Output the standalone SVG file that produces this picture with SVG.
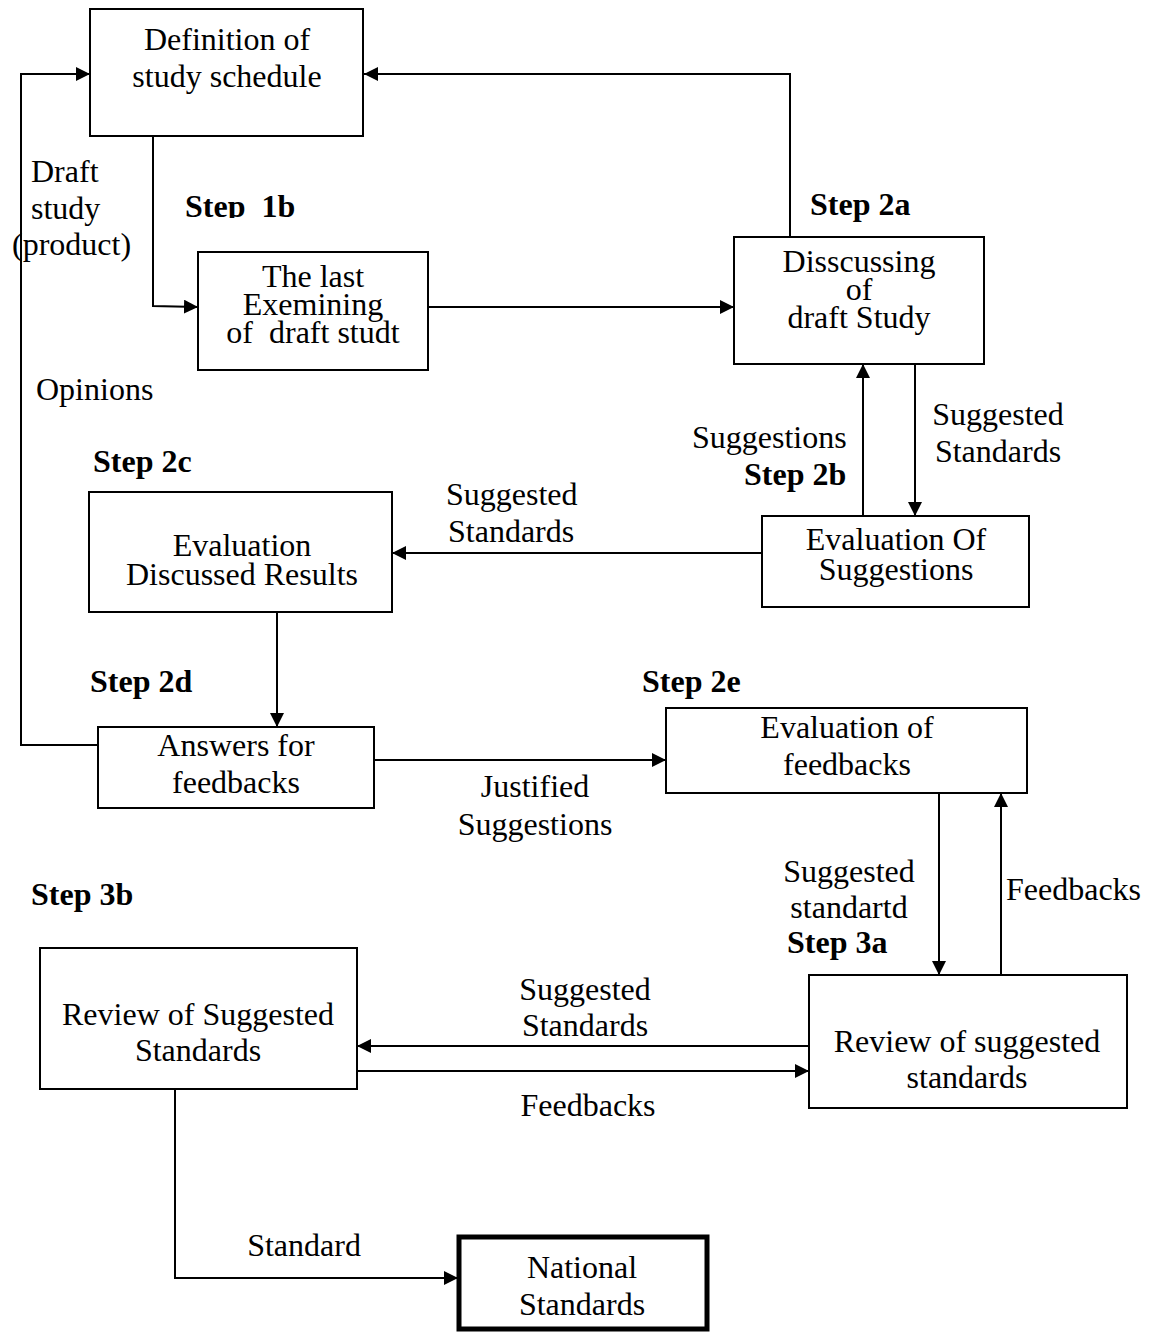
<svg xmlns="http://www.w3.org/2000/svg" width="1159" height="1333" viewBox="0 0 1159 1333">
<style>
.box{fill:#fff;stroke:#000;stroke-width:2}
.thick{fill:#fff;stroke:#000;stroke-width:5}
.t{font-family:"Liberation Serif","Times New Roman",serif;font-size:32px;fill:#000}
.c{text-anchor:middle}
.b{font-weight:bold}
.ln{fill:none;stroke:#000;stroke-width:2;marker-end:url(#ah)}
.ln0{fill:none;stroke:#000;stroke-width:2}
</style>
<defs>
<marker id="ah" viewBox="0 0 14 14" refX="14" refY="7" markerWidth="14" markerHeight="14" markerUnits="userSpaceOnUse" orient="auto">
<path d="M0,0 L14,7 L0,14 z" fill="#000"/>
</marker>
<clipPath id="clip1b"><rect x="150" y="180" width="200" height="38"/></clipPath>
</defs>
<rect width="1159" height="1333" fill="#fff"/>

<g id="connectors">
<path class="ln" d="M98,745 H21 V74 H90"/>
<path class="ln" d="M153,136 V306 L198,307"/>
<path class="ln" d="M428,307 H734"/>
<path class="ln" d="M790,237 V74 H364"/>
<path class="ln" d="M863,516 V364"/>
<path class="ln" d="M915,364 V516"/>
<path class="ln" d="M762,553 H392"/>
<path class="ln" d="M277,612 V727"/>
<path class="ln" d="M374,760 H666"/>
<path class="ln" d="M939,793 V975"/>
<path class="ln" d="M1001,975 V793"/>
<path class="ln" d="M809,1046 H357"/>
<path class="ln" d="M357,1071 H809"/>
<path class="ln" d="M175,1089 V1278 H458"/>
</g>

<g id="labels">
<text class="t" x="31" y="182">Draft</text>
<text class="t" x="31" y="219">study</text>
<text class="t" x="12" y="255">(product)</text>
<text class="t" x="36" y="400">Opinions</text>
<text class="t b" x="185" y="217" clip-path="url(#clip1b)" xml:space="preserve">Step  1b</text>
<text class="t b" x="810" y="215">Step 2a</text>
<text class="t c" x="998" y="425">Suggested</text>
<text class="t c" x="998" y="462">Standards</text>
<text class="t" x="692" y="448">Suggestions</text>
<text class="t b" x="744" y="485">Step 2b</text>
<text class="t b" x="93" y="472">Step 2c</text>
<text class="t" x="446" y="505">Suggested</text>
<text class="t" x="448" y="542">Standards</text>
<text class="t b" x="90" y="692">Step 2d</text>
<text class="t b" x="642" y="692">Step 2e</text>
<text class="t c" x="535" y="797">Justified</text>
<text class="t c" x="535" y="835">Suggestions</text>
<text class="t c" x="849" y="882">Suggested</text>
<text class="t c" x="849" y="918">standartd</text>
<text class="t b" x="787" y="953">Step 3a</text>
<text class="t" x="1006" y="900">Feedbacks</text>
<text class="t b" x="31" y="905">Step 3b</text>
<text class="t c" x="585" y="1000">Suggested</text>
<text class="t c" x="585" y="1036">Standards</text>
<text class="t c" x="588" y="1116">Feedbacks</text>
<text class="t c" x="304" y="1256">Standard</text>
</g>

<g id="n-definition">
<rect class="box" x="90" y="9" width="273" height="127"/>
<text class="t c" x="227" y="50">Definition of</text>
<text class="t c" x="227" y="87">study schedule</text>
</g>

<g id="n-lastexamining">
<rect class="box" x="198" y="252" width="230" height="118"/>
<text class="t c" x="313" y="287">The last</text>
<text class="t c" x="313" y="315">Exemining</text>
<text class="t c" x="313" y="343" xml:space="preserve">of  draft studt</text>
</g>

<g id="n-discussing">
<rect class="box" x="734" y="237" width="250" height="127"/>
<text class="t c" x="859" y="272">Disscussing</text>
<text class="t c" x="859" y="300">of</text>
<text class="t c" x="859" y="328">draft Study</text>
</g>

<g id="n-evalsuggestions">
<rect class="box" x="762" y="516" width="267" height="91"/>
<text class="t c" x="896" y="550">Evaluation Of</text>
<text class="t c" x="896" y="580">Suggestions</text>
</g>

<g id="n-evaldiscussed">
<rect class="box" x="89" y="492" width="303" height="120"/>
<text class="t c" x="242" y="556">Evaluation</text>
<text class="t c" x="242" y="585">Discussed Results</text>
</g>

<g id="n-answers">
<rect class="box" x="98" y="727" width="276" height="81"/>
<text class="t c" x="236" y="756">Answers for</text>
<text class="t c" x="236" y="793">feedbacks</text>
</g>

<g id="n-evalfeedbacks">
<rect class="box" x="666" y="708" width="361" height="85"/>
<text class="t c" x="847" y="738">Evaluation of</text>
<text class="t c" x="847" y="775">feedbacks</text>
</g>

<g id="n-review3a">
<rect class="box" x="809" y="975" width="318" height="133"/>
<text class="t c" x="967" y="1052">Review of suggested</text>
<text class="t c" x="967" y="1088">standards</text>
</g>

<g id="n-review3b">
<rect class="box" x="40" y="948" width="317" height="141"/>
<text class="t c" x="198" y="1025">Review of Suggested</text>
<text class="t c" x="198" y="1061">Standards</text>
</g>

<g id="n-national">
<rect class="thick" x="459" y="1237" width="248" height="92"/>
<text class="t c" x="582" y="1278">National</text>
<text class="t c" x="582" y="1315">Standards</text>
</g>
</svg>
